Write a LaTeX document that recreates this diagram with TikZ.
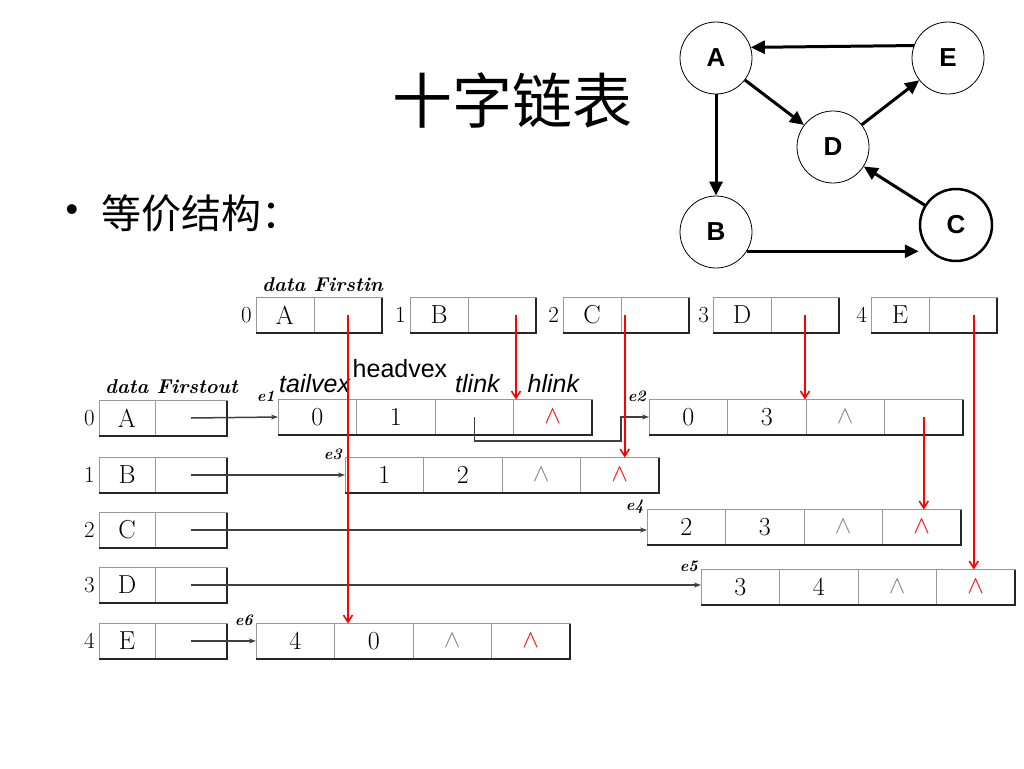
\documentclass[tikz,border=0pt]{standalone}
\usepackage{fontspec}
\newfontfamily\cjk{Noto Sans CJK SC}
\newfontfamily\arial{Liberation Sans}
\usetikzlibrary{arrows.meta,positioning}

\newcommand{\tnil}{\textcolor{gray}{$\wedge$}}
\newcommand{\hnil}{\textcolor{red}{$\wedge$}}

\begin{document}
\begin{tikzpicture}[x=1pt,y=-1pt,
  cell/.style={draw=gray!80,line width=0.8pt,minimum height=35pt,inner sep=0pt,outer sep=0pt,font=\fontsize{26}{26}\selectfont},
  idx/.style={inner sep=0pt,font=\fontsize{23}{23}\selectfont},
  elab/.style={inner sep=0pt,font=\fontsize{16}{16}\selectfont\bfseries\itshape},
  hdr/.style={inner sep=0pt,font=\fontsize{20}{20}\selectfont\bfseries\itshape},
  fld/.style={inner sep=0pt,font=\arial\fontsize{25}{25}\selectfont},
  ifld/.style={fld,font=\arial\itshape\fontsize{25}{25}\selectfont},
  rim/.style={line width=2pt,black!85},
  outptr/.style={line width=1.5pt,black!75,-{Stealth[length=7pt,width=5pt]}},
  inptr/.style={line width=1.6pt,red,-{Straight Barb[length=7pt,width=9pt]}},
  vtx/.style={circle,draw,line width=0.8pt,minimum size=72pt,inner sep=0pt,font=\arial\bfseries\fontsize{26}{26}\selectfont},
  link/.style={line width=3pt,-{Triangle[length=14pt,width=13pt]}}]
  \useasboundingbox (0,0) rectangle (1024,768);

  % Title
  \node[font=\cjk\fontsize{60}{60}\selectfont] (title) at (512,100) {十字链表};
  \node[font=\arial\fontsize{36}{36}\selectfont] (dot) at (72,213) {•};
  \node[anchor=west,inner sep=0pt,font=\cjk\fontsize{40}{40}\selectfont] (bullet) at (101,213) {等价结构：};

  % Graph
  \node[vtx] (A) at (716,58) {A};
  \node[vtx] (E) at (948,58) {E};
  \node[vtx] (D) at (833,147) {D};
  \node[vtx] (B) at (716,232) {B};
  \node[vtx,line width=2.5pt] (C) at (956,225) {C};
  \draw[link] (E.160) -- (A.17);
  \draw[link] (A) -- (B);
  \draw[link] (A) -- (D);
  \draw[link] (D) -- (E);
  \draw[link] (C) -- (D);
  \draw[link] (B.-32) -- (B.-32 -| C.west);

  % Vertex list (in)
  \foreach \i/\v/\x in {0/A/256,1/B/410,2/C/563,3/D/713,4/E/871} {
    \node[cell,minimum width=58pt] (in\v) at (\x+29,315) {\v};
    \node[cell,minimum width=68pt,right=0pt of in\v] (firstin\v) {};
    \node[idx,left=4pt of in\v] (iin\v) {\i};
    \draw[rim] (in\v.south west) -- (firstin\v.south east) -- (firstin\v.north east);
  }
  \node[hdr,anchor=south west] (hin) at ([xshift=6pt,yshift=6pt]inA.north west) {data Firstin};

  % Vertex list (out)
  \foreach \i/\v/\y in {0/A/418,1/B/475,2/C/530,3/D/585,4/E/641} {
    \node[cell,minimum width=56pt] (out\v) at (127,\y) {\v};
    \node[cell,minimum width=72pt,right=0pt of out\v] (firstout\v) {};
    \node[idx,left=4pt of out\v] (iout\v) {\i};
    \draw[rim] (out\v.south west) -- (firstout\v.south east) -- (firstout\v.north east);
  }
  \node[hdr,anchor=south west] (hout) at ([xshift=6pt,yshift=7pt]outA.north west) {data Firstout};

  % Arc nodes
  \foreach \n/\x/\y/\ta/\hd/\tk/\hk in {1/278/417/0/1/{}/\hnil, 2/649/417/0/3/\tnil/{},
      3/345/475/1/2/\tnil/\hnil, 4/647/527/2/3/\tnil/\hnil,
      5/701/587/3/4/\tnil/\hnil, 6/256/641/4/0/\tnil/\hnil} {
    \node[cell,minimum width=78.5pt] (e\n tail) at (\x+39.25,\y) {\ta};
    \node[cell,minimum width=78.5pt,right=0pt of e\n tail] (e\n head) {\hd};
    \node[cell,minimum width=78.5pt,right=0pt of e\n head] (e\n tl) {\tk};
    \node[cell,minimum width=78.5pt,right=0pt of e\n tl] (e\n hl) {\hk};
    \node[elab,anchor=east] (el\n) at ([xshift=-3pt,yshift=3pt]e\n tail.north west) {e\n};
    \draw[rim] (e\n tail.south west) -- (e\n hl.south east) -- (e\n hl.north east);
  }

  % Field names
  \node[ifld,anchor=south west] (ftail) at ([xshift=1pt,yshift=7pt]e1tail.north west) {tailvex};
  \node[fld,anchor=south west] (fhead) at ([xshift=-4pt,yshift=22pt]e1head.north west) {headvex};
  \node[ifld,anchor=south west] (ftl) at ([xshift=20pt,yshift=7pt]e1tl.north west) {tlink};
  \node[ifld,anchor=south west] (fhl) at ([xshift=14pt,yshift=7pt]e1hl.north west) {hlink};

  % Out pointers
  \draw[outptr] (firstoutA.center) -- (e1tail.west);
  \draw[outptr] (firstoutB.center) -- (e3tail.west);
  \draw[outptr] (firstoutC.center) -- (firstoutC.center -| e4tail.west);
  \draw[outptr] (firstoutD.center) -- (firstoutD.center -| e5tail.west);
  \draw[outptr] (firstoutE.center) -- (e6tail.west);
  \draw[outptr] (e1tl.center) -- ++(0,24) -| ([xshift=-28pt]e2tail.west) -- (e2tail.west);

  % In pointers
  \draw[inptr] (firstinA.center) -- (firstinA.center |- e6head.north);
  \draw[inptr] ([xshift=2.5pt]e1tl.north east |- firstinB.center) -- ([xshift=2.5pt]e1tl.north east);
  \draw[inptr] ([xshift=5pt]e3hl.north |- firstinC.center) -- ([xshift=5pt]e3hl.north);
  \draw[inptr] (firstinD.center) -- (firstinD.center |- e2head.north);
  \draw[inptr] ([xshift=-2pt]e5hl.north |- firstinE.center) -- ([xshift=-2pt]e5hl.north);
  \draw[inptr] (e2hl.center) -- (e2hl.center |- e4hl.north);
\end{tikzpicture}
\end{document}
